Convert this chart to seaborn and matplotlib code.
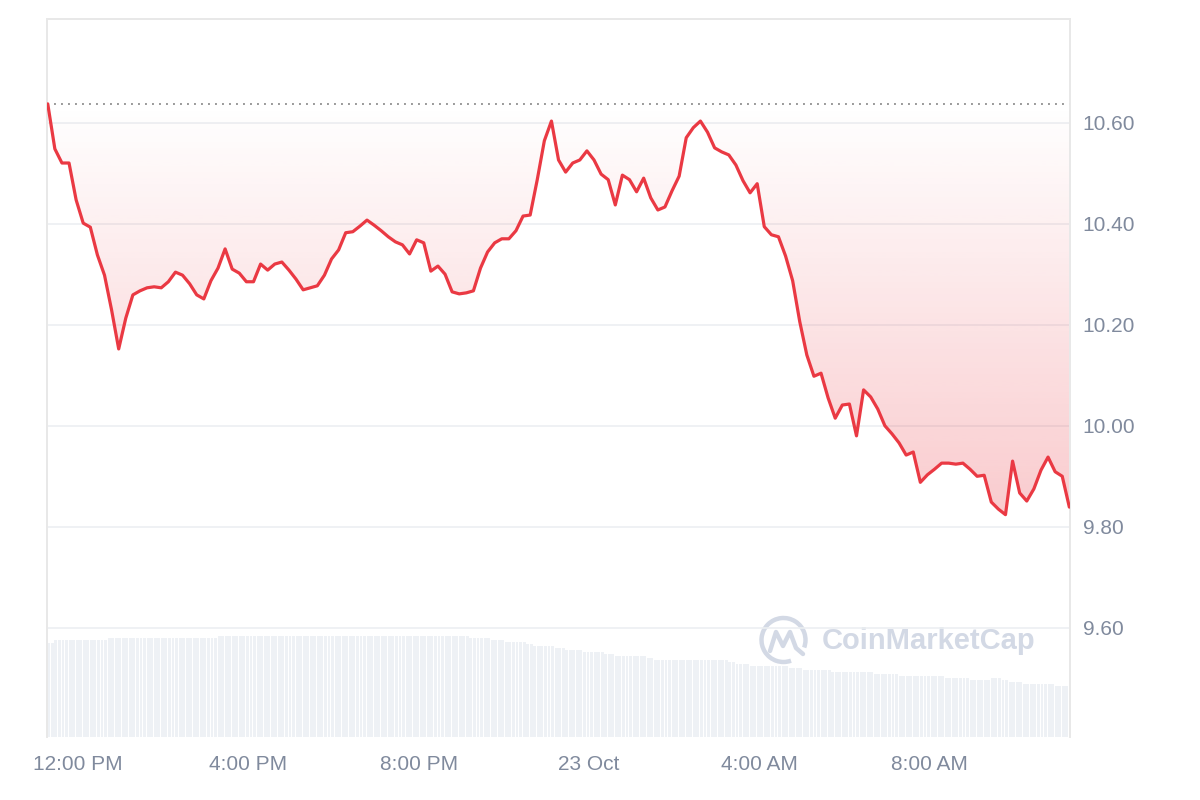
import numpy as np
import pandas as pd
import seaborn as sns
import matplotlib.pyplot as plt
import matplotlib.dates as mdates
from matplotlib.colors import to_rgb
from matplotlib.patches import Arc

# price, one reading every 10 minutes from 22 Oct 11:17 to 23 Oct 11:17
price = [
    10.637, 10.548, 10.520, 10.520, 10.447, 10.401, 10.393, 10.338, 10.298, 10.229,
    10.152, 10.213, 10.259, 10.267, 10.273, 10.275, 10.273, 10.285, 10.304, 10.298,
    10.281, 10.259, 10.251, 10.287, 10.312, 10.350, 10.310, 10.302, 10.285, 10.285,
    10.320, 10.308, 10.320, 10.324, 10.308, 10.290, 10.269, 10.273, 10.277, 10.298,
    10.330, 10.348, 10.382, 10.384, 10.395, 10.407, 10.397, 10.386, 10.374, 10.364,
    10.358, 10.340, 10.368, 10.362, 10.306, 10.316, 10.300, 10.265, 10.261, 10.263,
    10.267, 10.312, 10.344, 10.362, 10.370, 10.370, 10.386, 10.415, 10.417, 10.487,
    10.564, 10.603, 10.526, 10.502, 10.520, 10.526, 10.544, 10.526, 10.498, 10.487,
    10.437, 10.496, 10.487, 10.463, 10.490, 10.451, 10.427, 10.433, 10.465, 10.494,
    10.570, 10.590, 10.603, 10.581, 10.550, 10.542, 10.536, 10.516, 10.485, 10.461,
    10.479, 10.394, 10.378, 10.374, 10.336, 10.287, 10.206, 10.140, 10.098, 10.104,
    10.055, 10.015, 10.041, 10.043, 9.980, 10.071, 10.057, 10.033, 10.000, 9.984,
    9.966, 9.942, 9.948, 9.888, 9.903, 9.914, 9.926, 9.926, 9.924, 9.926,
    9.914, 9.900, 9.902, 9.849, 9.835, 9.824, 9.930, 9.867, 9.851, 9.875,
    9.912, 9.938, 9.909, 9.900, 9.839,
]
open_price = 10.637

# 5-minute volume bars, stored as (level, number of bars)
vol_levels = [9.43, 9.70, 9.87, 10.10, 9.87, 9.67, 9.47, 9.27, 9.07, 8.87, 8.67,
              8.47, 8.27, 8.07, 7.87, 7.67, 7.47, 7.27, 7.07, 6.87, 6.67, 6.47,
              6.27, 6.07, 5.87, 5.67, 5.87, 5.67, 5.47, 5.27, 5.07]
vol_counts = [2, 15, 31, 71, 6, 4, 6, 2, 6, 3, 5,
              6, 3, 9, 2, 21, 2, 4, 11, 4, 8, 12,
              7, 13, 7, 6, 3, 2, 4, 9, 4]

y_ticks = [9.60, 9.80, 10.00, 10.20, 10.40, 10.60]
x_tick_times = ["2024-10-22 12:00", "2024-10-22 16:00", "2024-10-22 20:00",
                "2024-10-23 00:00", "2024-10-23 04:00", "2024-10-23 08:00"]
x_tick_labels = ["12:00 PM", "4:00 PM", "8:00 PM", "23 Oct", "4:00 AM", "8:00 AM"]

red = "#ea3943"
grey_text = "#808a9d"
grid_col = "#eceff2"

times = pd.date_range("2024-10-22 11:17", periods=len(price), freq="10min")
df = pd.DataFrame({"time": times, "price": price})
volume = np.repeat(vol_levels, vol_counts)
bar_times = pd.date_range("2024-10-22 11:18:30", periods=len(volume), freq="5min")

sns.set_style("white")
plt.rcParams["font.family"] = ["Liberation Sans", "DejaVu Sans"]

fig = plt.figure(figsize=(12, 8), dpi=100)
ax = fig.add_axes([0.0392, 0.07875, 0.8525, 0.8975])
ax2 = ax.twinx()
ax.set_zorder(1)
ax2.set_zorder(0)
ax.patch.set_visible(False)

# volume bars behind the price
ax2.bar(mdates.date2num(bar_times), volume, width=0.82 * 5 / 1440,
        color="#eef1f5", linewidth=0)
ax2.set_ylim(0, 71.8)
ax2.set_yticks([])
for s in ax2.spines.values():
    s.set_visible(False)

# gradient fill between opening price and the line
x_num = mdates.date2num(times)
poly = ax.fill_between(x_num, price, open_price, color="none", linewidth=0)
grad = np.zeros((200, 1, 4))
grad[..., :3] = to_rgb(red)
grad[:, 0, 3] = np.linspace(0, 0.27, 200)
im = ax.imshow(grad, extent=[x_num[0], x_num[-1], 9.80, open_price],
               aspect="auto", origin="upper", zorder=1)
im.set_clip_path(poly.get_paths()[0], transform=ax.transData)

ax.axhline(open_price, color="#9a9a9a", linestyle=(0, (1, 2.6)), lw=1.4, zorder=2)
sns.lineplot(data=df, x="time", y="price", ax=ax, color=red, linewidth=2.3, zorder=3)

ax.set_xlim(mdates.date2num(pd.Timestamp("2024-10-22 11:16")),
            mdates.date2num(pd.Timestamp("2024-10-23 11:18")))
ax.set_ylim(9.384, 10.805)

ax.yaxis.tick_right()
ax.set_yticks(y_ticks)
ax.set_yticklabels([f"{v:.2f}" for v in y_ticks])
ax.set_xticks(mdates.date2num(pd.to_datetime(x_tick_times)))
ax.set_xticklabels(x_tick_labels)
ax.tick_params(axis="y", length=0, pad=9, labelsize=15, labelcolor=grey_text)
ax.tick_params(axis="x", length=0, pad=13, labelsize=15, labelcolor=grey_text)
ax.set_xlabel("")
ax.set_ylabel("")
ax.grid(axis="y", color=grid_col, lw=1.2)
ax.grid(axis="x", visible=False)
for side in ["top", "left", "right"]:
    ax.spines[side].set_color("#e8e8e8")
    ax.spines[side].set_linewidth(1.4)
ax.spines["bottom"].set_visible(False)

# watermark
wm = fig.add_axes([0, 0, 1, 1], zorder=0.5)
wm.set_xlim(0, 1200)
wm.set_ylim(800, 0)
wm.axis("off")
wm_col = "#d3d9e5"
wm.add_patch(Arc((783.5, 640), 44, 44, theta1=70, theta2=380, color=wm_col, lw=3.2))
wm.plot([770, 776, 783, 790, 796, 803], [651, 632, 646, 632, 648, 654],
        color=wm_col, lw=3.2, solid_joinstyle="round", solid_capstyle="round")
wm.text(822, 641, "CoinMarketCap", fontsize=21, fontweight="bold", color=wm_col,
        va="center", ha="left")

fig.savefig("out.png", dpi=100, facecolor="white")
